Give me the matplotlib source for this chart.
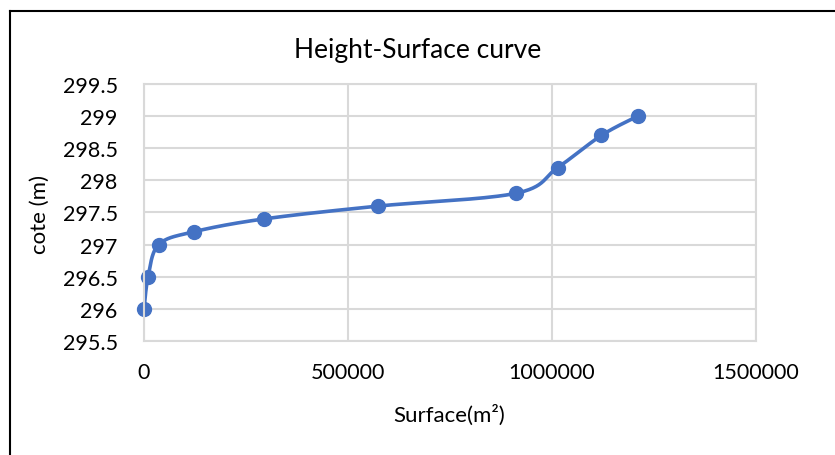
import matplotlib
matplotlib.use("Agg")
import matplotlib.pyplot as plt
import numpy as np
from matplotlib.lines import Line2D

surface = [0, 10000, 36000, 122000, 294000, 574000, 912000, 1014000, 1121000, 1210000]
cote = [296, 296.5, 297, 297.2, 297.4, 297.6, 297.8, 298.2, 298.7, 299]
xticks = [0, 500000, 1000000, 1500000]
yticks = [295.5, 296, 296.5, 297, 297.5, 298, 298.5, 299, 299.5]

plt.rcParams['font.family'] = ['Lato', 'DejaVu Sans']
blue = '#4472C4'
grid = '#d9d9d9'

fig = plt.figure(figsize=(8.35, 4.56), dpi=100)
ax = fig.add_axes([0.1725, 0.25, 0.733, 0.5636])
ax.set_xlim(0, 1500000)
ax.set_ylim(295.5, 299.5)
ax.set_xticks(xticks)
ax.set_yticks(yticks)
ax.set_xticklabels([str(t) for t in xticks])
ax.set_yticklabels([('%g' % t) for t in yticks])
ax.tick_params(length=0, labelsize=15.5, colors='#000000')
ax.tick_params(axis='y', pad=19)
ax.tick_params(axis='x', pad=15)
ax.grid(True, color=grid, lw=1.5)
ax.set_axisbelow(True)
for s in ax.spines.values():
    s.set_color(grid)
    s.set_linewidth(1.5)

# smooth line like excel, computed in pixel space
fig.canvas.draw()
pts = ax.transData.transform(np.column_stack([surface, cote]))
p = np.vstack([pts[0], pts, pts[-1]])
curve = []
for i in range(1, len(p) - 2):
    p0, p1, p2, p3 = p[i - 1], p[i], p[i + 1], p[i + 2]
    c1 = p1 + (p2 - p0) / 6
    c2 = p2 - (p3 - p1) / 6
    t = np.linspace(0, 1, 30)[:, None]
    seg = (1 - t) ** 3 * p1 + 3 * (1 - t) ** 2 * t * c1 + 3 * (1 - t) * t ** 2 * c2 + t ** 3 * p2
    curve.append(seg)
curve = ax.transData.inverted().transform(np.vstack(curve))
ax.plot(curve[:, 0], curve[:, 1], color=blue, lw=2.6, solid_capstyle='round', clip_on=False)
ax.plot(surface, cote, 'o', color=blue, markersize=10, clip_on=False)

fig.text(0.5, 0.89, 'Height-Surface curve', ha='center', va='center', fontsize=19)
fig.text(0.538, 0.09, 'Surface(m²)', ha='center', va='center', fontsize=16)
fig.text(0.048, 0.53, 'cote (m)', ha='center', va='center', rotation=90, fontsize=16)

# chart border (cropped on right and bottom)
fig.add_artist(Line2D([10 / 835, 10 / 835], [0, 1 - 12 / 456], color='#000000', lw=1.5, transform=fig.transFigure))
fig.add_artist(Line2D([10 / 835, 1], [1 - 12 / 456, 1 - 12 / 456], color='#000000', lw=1.5, transform=fig.transFigure))

fig.savefig('out.png', dpi=100)
